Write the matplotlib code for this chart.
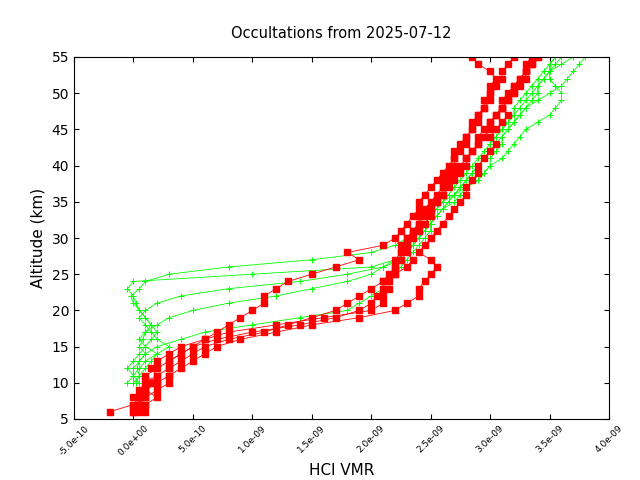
import matplotlib
matplotlib.use('Agg')
import matplotlib.pyplot as plt
import numpy as np

# altitudes (km)
red_alt = list(range(6, 56))
green_alt = list(range(10, 56))

# HCl VMR in units of 1e-10
red_profiles = [
    [0, 0.5, 1, 0.5, 1, 2, 1.5, 2, 3, 4, 6, 8, 12, 16, 20, 21, 21, 21.5, 21.5, 22, 22, 22.5, 22.5, 23, 23,
     23.5, 24, 24, 24.5, 25, 25.5, 26, 26, 26.5, 27, 27, 27.5, 28, 28, 28.5, 29, 29, 29.5, 30, 30, 30.5, 31, 31, 31.5, 32],
    [-2, 0, 1, 2, 3, 3, 4, 5, 6, 7, 9, 12, 15, 19, 22, 23, 24, 24, 24.5, 25, 25.5, 25, 24, 24.5, 25,
     25.5, 26, 26.5, 27, 27.5, 28, 28, 28.5, 29, 29, 29.5, 30, 30.5, 30, 30.5, 31, 31.5, 31, 31.5, 32, 32.5, 33, 33, 33.5, 34],
    [1, 1, 0, 1, 2, 1, 2, 3, 4, 5, 6, 7, 8, 9, 10, 11, 11, 12, 13, 15, 17, 19, 18, 21, 22,
     22.5, 23, 23.5, 24, 24, 24.5, 25, 25.5, 26, 26.5, 27, 27, 27.5, 28, 28.5, 28.5, 29, 29.5, 29.5, 30, 30, 30.5, 30, 29, 28.5],
    [0.5, 0, 0.5, 1, 1.5, 2, 3, 3, 4, 5, 7, 10, 14, 17, 19, 20, 20.5, 21, 21, 21.5, 22, 22, 22.5, 23, 23.5,
     24, 24.5, 25, 25, 25.5, 26, 26.5, 27, 27.5, 28, 28, 28.5, 29, 29.5, 30, 30, 30.5, 31, 31.5, 32, 32, 32.5, 33, 33.5, 34],
    [0, 1, 2, 1, 2, 3, 3, 4, 5, 6, 8, 11, 13, 15, 17, 18, 19, 20, 21, 22, 23, 23.5, 23, 22.5, 23,
     23.5, 24, 24.5, 25, 25.5, 26, 26, 26.5, 27, 27.5, 28, 28.5, 29, 29, 29.5, 30, 30.5, 31, 31, 31.5, 32, 32.5, 33, 33, 33.5],
]

green_profiles = [
    [0.2, 0.5, 0.3, 0.5, 1, 0.5, 0.8, 1, 1.5, 1, 0.5, 0.2, 0, -0.5, 0, 10, 20, 22, 23, 23.5, 24, 24.5, 25, 25.5, 26,
     26.5, 27, 27.5, 28, 28.5, 29, 29.5, 30, 30.5, 31, 31.5, 32, 32.5, 33, 34, 35, 36, 36.5, 37, 37.5, 38],
    [0, 0, 0.5, 1, 2, 3, 2, 1.5, 1, 0.5, 1, 2, 4, 8, 14, 18, 21, 22.5, 23, 23.5, 24, 24.5, 25, 25.5, 26,
     27, 27.5, 28, 29, 29.5, 30, 31, 31.5, 32, 32.5, 33, 34, 35, 35.5, 36, 36, 35.5, 35, 35, 36, 37],
    [-0.5, 0, 0, 0.5, 1, 2, 4, 6, 10, 14, 18, 19, 20, 21, 21.5, 22, 22.5, 23, 23.5, 24, 24.5, 25, 25, 25.5, 26,
     26.5, 27, 27.5, 28, 28.5, 29, 29.5, 30, 30, 30.5, 31, 31.5, 32, 32, 32.5, 33, 33.5, 34, 34.5, 35, 35.5],
    [0, 0.5, 1, 1.5, 2, 1, 0.5, 1, 2, 3, 5, 8, 12, 15, 18, 20, 21, 22, 23, 23.5, 24, 24.5, 25, 25, 25.5,
     26, 27, 28, 29, 29.5, 30, 30, 30.5, 31, 31, 31.5, 32, 32.5, 33, 33.5, 34, 34, 34.5, 35, 35, 35.5],
    [0.5, 0, -0.5, 0, 0.5, 1, 1.5, 2, 1.5, 1, 0.5, 0, -0.2, 0.5, 1, 3, 8, 15, 20, 22, 23, 24, 24.5, 25, 25.5,
     26, 26.5, 27, 27.5, 28, 28.5, 29, 29.5, 30, 30.5, 31, 31.5, 32, 32.5, 33, 33.5, 34, 34.5, 35, 35.5, 36],
]

fig = plt.figure(figsize=(6.4, 4.8), dpi=100)
ax = fig.add_axes([74/640, 1-419/480, (609-74)/640, (419-57)/480])

for p in green_profiles:
    ax.plot(np.array(p)*1e-10, green_alt, color='#00ff00', lw=0.6, marker='+', ms=5, mew=0.7)
for p in red_profiles:
    ax.plot(np.array(p)*1e-10, red_alt, color='#ff0000', lw=0.6, marker='s', ms=4)

ticks = np.arange(-5e-10, 4.01e-9, 5e-10)
ax.set_xlim(-5e-10, 4e-9)
ax.set_ylim(5, 55)
ax.set_xticks(ticks)
ax.set_xticklabels(['%.1e' % v if abs(v) > 1e-12 else '0.0e+00' for v in ticks],
                   rotation=45, fontsize=6.5)
ax.set_yticks(range(5, 56, 5))
ax.tick_params(axis='y', labelsize=10)
ax.tick_params(direction='in', top=True, right=True)
ax.set_xlabel('HCl VMR', fontsize=11)
ax.set_ylabel('Altitude (km)', fontsize=11)
ax.set_title('Occultations from 2025-07-12', fontsize=10.5, pad=14)
fig.savefig('out.png')
